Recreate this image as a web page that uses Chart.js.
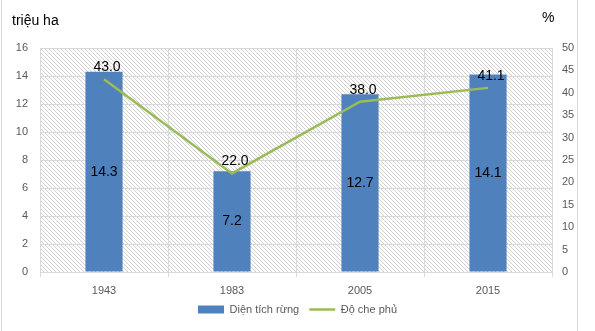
<!doctype html>
<html>
<head>
<meta charset="utf-8">
<script src="https://cdn.jsdelivr.net/npm/chart.js"></script>
<style>
  html, body { margin: 0; padding: 0; background: #fff; }
  #wrap { width: 595px; height: 331px; }
</style>
</head>
<body>
<div id="wrap"><canvas id="rung" width="595" height="331"></canvas></div>
<script>
// số liệu
const years = ['1943', '1983', '2005', '2015'];
const dienTich = [14.3, 7.2, 12.7, 14.1];   // triệu ha
const doChePhu = [43.0, 22.0, 38.0, 41.1];  // %

const tickColor = '#595959';
const gridColor = '#d9d9d9';
const font = 'Liberation Sans';

// nền gạch chéo cho vùng vẽ
function hatchPattern(ctx) {
  const c = document.createElement('canvas');
  c.width = 4; c.height = 4;
  const g = c.getContext('2d');
  g.fillStyle = '#cfcfcf';
  for (let i = 0; i < 4; i++) g.fillRect(i, i, 1, 1);
  return ctx.createPattern(c, 'repeat');
}

const background = {
  id: 'background',
  beforeDraw(chart) {
    const { ctx, chartArea: a } = chart;
    ctx.save();
    ctx.fillStyle = '#fff';
    ctx.fillRect(0, 0, chart.width, chart.height);
    ctx.fillStyle = hatchPattern(ctx);
    ctx.fillRect(a.left, a.top, a.right - a.left, a.bottom - a.top);
    ctx.strokeStyle = '#d9d9d9';
    ctx.lineWidth = 1;
    ctx.strokeRect(1.5, -2, 576, chart.height + 4);
    // đơn vị trục
    ctx.fillStyle = '#000';
    ctx.font = '14px "' + font + '"';
    ctx.textBaseline = 'alphabetic';
    ctx.textAlign = 'left';
    ctx.fillText('triệu ha', 12, 25);
    ctx.fillText('%', 542, 22);
    ctx.restore();
  }
};

const valueLabels = {
  id: 'valueLabels',
  afterDatasetsDraw(chart) {
    const ctx = chart.ctx;
    ctx.save();
    ctx.fillStyle = '#000';
    ctx.font = '14px "' + font + '"';
    ctx.textAlign = 'center';
    chart.data.datasets.forEach((ds, i) => {
      chart.getDatasetMeta(i).data.forEach((el, j) => {
        const txt = ds.data[j].toFixed(1);
        if (ds.type === 'bar') {
          ctx.textBaseline = 'middle';
          ctx.fillText(txt, el.x, (el.y + el.base) / 2);
        } else {
          ctx.textBaseline = 'bottom';
          ctx.fillText(txt, el.x + 3, el.y - 5);
        }
      });
    });
    ctx.restore();
  }
};

new Chart(document.getElementById('rung'), {
  data: {
    labels: years,
    datasets: [{
      type: 'line',
      label: 'Độ che phủ',
      data: doChePhu,
      yAxisID: 'y1',
      borderColor: '#9bbb59',
      backgroundColor: '#9bbb59',
      borderWidth: 2.5,
      pointRadius: 0,
      tension: 0,
      order: 0
    }, {
      type: 'bar',
      label: 'Diện tích rừng',
      data: dienTich,
      yAxisID: 'y',
      backgroundColor: '#4f81bd',
      borderWidth: 0,
      categoryPercentage: 1,
      barPercentage: 0.29,
      order: 1
    }]
  },
  options: {
    responsive: false,
    animation: false,
    layout: { padding: { top: 48, right: 0, left: 0, bottom: 6 } },
    plugins: {
      tooltip: { enabled: false },
      legend: {
        position: 'bottom',
        reverse: true,
        labels: {
          usePointStyle: true,
          pointStyleWidth: 26,
          boxHeight: 8,
          padding: 10,
          color: tickColor,
          font: { family: font, size: 11 },
          generateLabels(chart) {
            const items = Chart.defaults.plugins.legend.labels.generateLabels(chart);
            items.forEach(it => {
              const ds = chart.data.datasets[it.datasetIndex];
              it.pointStyle = ds.type === 'line' ? 'line' : 'rect';
              it.lineWidth = ds.type === 'line' ? 2.5 : 0;
            });
            return items;
          }
        }
      }
    },
    scales: {
      x: {
        grid: { color: gridColor, offset: true, tickLength: 5 },
        border: { color: gridColor },
        ticks: { color: tickColor, font: { family: font, size: 11 }, padding: 7 },
        afterFit(s) { s.height = 22; }
      },
      y: {
        position: 'left',
        min: 0, max: 16,
        ticks: { stepSize: 2, color: tickColor, font: { family: font, size: 11 }, padding: 12 },
        grid: { color: gridColor, drawTicks: false },
        border: { color: gridColor },
        afterFit(s) { s.width = 40; }
      },
      y1: {
        position: 'right',
        min: 0, max: 50,
        ticks: { stepSize: 5, color: tickColor, font: { family: font, size: 11 }, padding: 10 },
        grid: { drawOnChartArea: false, drawTicks: false },
        border: { color: gridColor },
        afterFit(s) { s.width = 43; }
      }
    }
  },
  plugins: [background, valueLabels]
});
</script>
</body>
</html>
